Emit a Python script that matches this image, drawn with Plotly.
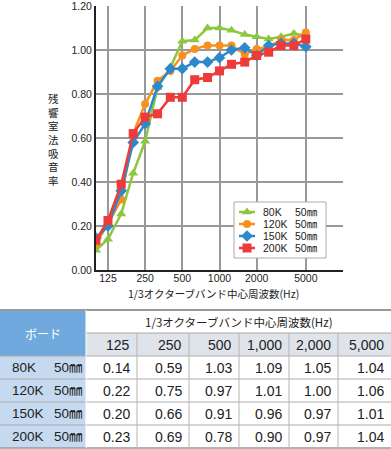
import plotly.graph_objects as go

W, H = 391, 449

# ---------------- data ----------------
freqs = [100, 125, 160, 200, 250, 315, 400, 500, 630, 800, 1000, 1250, 1600, 2000, 2500, 3150, 4000, 5000]
k80 = [0.09, 0.14, 0.255, 0.44, 0.585, 0.83, 0.92, 1.04, 1.045, 1.10, 1.10, 1.09, 1.07, 1.06, 1.05, 1.06, 1.075, 1.065]
k120 = [0.12, 0.21, 0.32, 0.62, 0.755, 0.86, 0.905, 0.975, 1.005, 1.02, 1.02, 1.02, 0.98, 1.005, 1.015, 1.045, 1.045, 1.08]
k150 = [0.145, 0.20, 0.36, 0.58, 0.665, 0.835, 0.915, 0.915, 0.945, 0.945, 0.965, 1.00, 1.01, 0.975, 1.02, 1.03, 1.03, 1.015]
k200 = [0.135, 0.225, 0.39, 0.62, 0.695, 0.71, 0.785, 0.785, 0.865, 0.875, 0.905, 0.935, 0.945, 0.975, 0.99, 1.02, 1.02, 1.05]

series_names = ["80K", "120K", "150K", "200K"]
thickness = "50㎜"
x_ticks = [125, 250, 500, 1000, 2000, 5000]
x_ticktext = ["125", "250", "500", "1000", "2000", "5000"]
y_ticks = [0.0, 0.2, 0.4, 0.6, 0.8, 1.0, 1.2]

table_header_board = "ボード"
table_header_band = "1/3オクターブバンド中心周波数(Hz)"
table_bands = ["125", "250", "500", "1,000", "2,000", "5,000"]
table_values = [
    ["0.14", "0.59", "1.03", "1.09", "1.05", "1.04"],
    ["0.22", "0.75", "0.97", "1.01", "1.00", "1.06"],
    ["0.20", "0.66", "0.91", "0.96", "0.97", "1.01"],
    ["0.23", "0.69", "0.78", "0.90", "0.97", "1.04"],
]
y_title = "残響室法吸音率"
x_title = "1/3オクターブバンド中心周波数(Hz)"

# ---------------- styles ----------------
colors = ["#8dc63f", "#f7901e", "#2e88cc", "#ef3a3a"]
symbols = ["triangle-up", "circle", "diamond", "square"]
msizes = [9, 8, 9, 9]
FONT = "Liberation Sans, Arial, Noto Sans CJK JP, sans-serif"
JFONT = "Noto Sans CJK JP, Liberation Sans, sans-serif"
TXT = "#222222"


def px(x):
    return x / W


def py(y):
    return 1 - y / H


def label(x, y, text, xa="center", size=10.5, color=TXT, family=FONT):
    return dict(x=px(x), y=py(y), xref="paper", yref="paper", text=text, showarrow=False,
                xanchor=xa, yanchor="middle", font=dict(family=family, size=size, color=color))


fig = go.Figure()
for name, vals, c, s, ms in zip(series_names, [k80, k120, k150, k200], colors, symbols, msizes):
    fig.add_trace(go.Scatter(
        x=freqs, y=vals, mode="lines+markers", name=name + " " + thickness, showlegend=False,
        line=dict(color=c, width=2.5),
        marker=dict(symbol=s, size=ms, color=c, line=dict(width=0)),
    ))

shapes = []
annotations = []

# ---------------- custom legend (pixel overlay axes) ----------------
LX0, LY0, LX1, LY1 = 234, 202, 326, 258
fig.add_trace(go.Scatter(x=[LX0, LX1, LX1, LX0, LX0], y=[LY0, LY0, LY1, LY1, LY0], xaxis="x2", yaxis="y2",
                         mode="lines", fill="toself", fillcolor="white", line=dict(color="#aaaaaa", width=1),
                         showlegend=False, hoverinfo="skip"))
leg_y = [212, 224, 236, 248]
for name, c, s, ms, yy in zip(series_names, colors, symbols, msizes, leg_y):
    fig.add_trace(go.Scatter(x=[239, 255], y=[yy, yy], xaxis="x2", yaxis="y2", mode="lines",
                             line=dict(color=c, width=2.5), showlegend=False, hoverinfo="skip"))
    fig.add_trace(go.Scatter(x=[247], y=[yy], xaxis="x2", yaxis="y2", mode="markers",
                             marker=dict(symbol=s, size=ms, color=c, line=dict(width=0)),
                             showlegend=False, hoverinfo="skip"))
    annotations.append(label(261, yy, name, xa="left"))
    annotations.append(label(293, yy, thickness, xa="left"))

# axis titles
annotations.append(label(213, 293, x_title, family=JFONT))
annotations.append(label(53, 139, "<br>".join(list(y_title)), family=JFONT))

# ---------------- table ----------------
col_edges = [0, 86, 137, 189, 239, 289, 338, 391]
row_edges = [310, 333, 356, 379, 402, 425, 448]


def rect(x0, y0, x1, y1, fill):
    shapes.append(dict(type="rect", xref="paper", yref="paper", x0=px(x0), x1=px(x1),
                       y0=py(y1), y1=py(y0), fillcolor=fill, line=dict(width=0), layer="below"))


def hline(x0, x1, y, color, w):
    shapes.append(dict(type="line", xref="paper", yref="paper", x0=px(x0), x1=px(x1),
                       y0=py(y), y1=py(y), line=dict(color=color, width=w)))


def vline(x, y0, y1, color, w):
    shapes.append(dict(type="line", xref="paper", yref="paper", x0=px(x), x1=px(x),
                       y0=py(y0), y1=py(y1), line=dict(color=color, width=w)))


rect(0, row_edges[0], col_edges[1], row_edges[2], "#6fa9dd")
rect(col_edges[1], row_edges[1], W, row_edges[2], "#dfe3ea")
rect(0, row_edges[2], col_edges[1], row_edges[-1], "#c5daf0")

hline(0, W, row_edges[0], "#999999", 2)
hline(col_edges[1], W, row_edges[1], "#aaaaaa", 1)
for r in row_edges[2:-1]:
    hline(0, W, r, "#aaaaaa", 1)
hline(0, W, row_edges[-1], "#999999", 1.5)
for c in col_edges[2:-1]:
    vline(c, row_edges[1], row_edges[-1], "#b5b5b5", 1)
vline(col_edges[1], row_edges[0], row_edges[-1], "#ffffff", 1)

annotations.append(label(col_edges[1] / 2, (row_edges[0] + row_edges[2]) / 2, table_header_board,
                         size=12, color="#ffffff", family=JFONT))
annotations.append(label((col_edges[1] + W) / 2, (row_edges[0] + row_edges[1]) / 2, table_header_band,
                         size=11.5, family=JFONT))
for j, b in enumerate(table_bands):
    annotations.append(label(col_edges[j + 2] - 5, (row_edges[1] + row_edges[2]) / 2, b, xa="right", size=14))
for i, name in enumerate(series_names):
    yc = (row_edges[i + 2] + row_edges[i + 3]) / 2
    annotations.append(label(10, yc, name, xa="left", size=13.5))
    annotations.append(label(52, yc, thickness, xa="left", size=13.5))
    for j, v in enumerate(table_values[i]):
        annotations.append(label(col_edges[j + 2] - 5, yc, v, xa="right", size=14))

fig.update_layout(
    width=W, height=H, margin=dict(l=0, r=0, t=0, b=0),
    paper_bgcolor="white", plot_bgcolor="rgba(0,0,0,0)",
    font=dict(family=FONT, size=10.5, color=TXT),
    xaxis=dict(type="log", range=[2, 4], domain=[px(96), px(343)],
               tickvals=x_ticks, ticktext=x_ticktext, showgrid=True, gridcolor="#999999", gridwidth=1.5,
               showline=True, linecolor=TXT, linewidth=2, ticks="", zeroline=False,
               automargin=False, tickfont=dict(size=10.5), ticklabeloverflow="allow",
               ticklabelstandoff=-3),
    yaxis=dict(range=[0, 1.2], domain=[py(270), py(6)], tickvals=y_ticks, tickformat=".2f",
               showgrid=True, gridcolor="#999999", gridwidth=1.5, showline=True, linecolor=TXT,
               linewidth=2, ticks="", zeroline=False, automargin=False, tickfont=dict(size=10.5),
               ticklabeloverflow="allow"),
    xaxis2=dict(domain=[0, 1], range=[0, W], visible=False, anchor="y2", fixedrange=True),
    yaxis2=dict(domain=[0, 1], range=[H, 0], visible=False, anchor="x2", fixedrange=True),
    shapes=shapes, annotations=annotations, showlegend=False,
)

fig.write_html("out.html", config={"displayModeBar": False},
               post_script="document.body.style.margin='0';document.body.style.overflow='hidden';")
